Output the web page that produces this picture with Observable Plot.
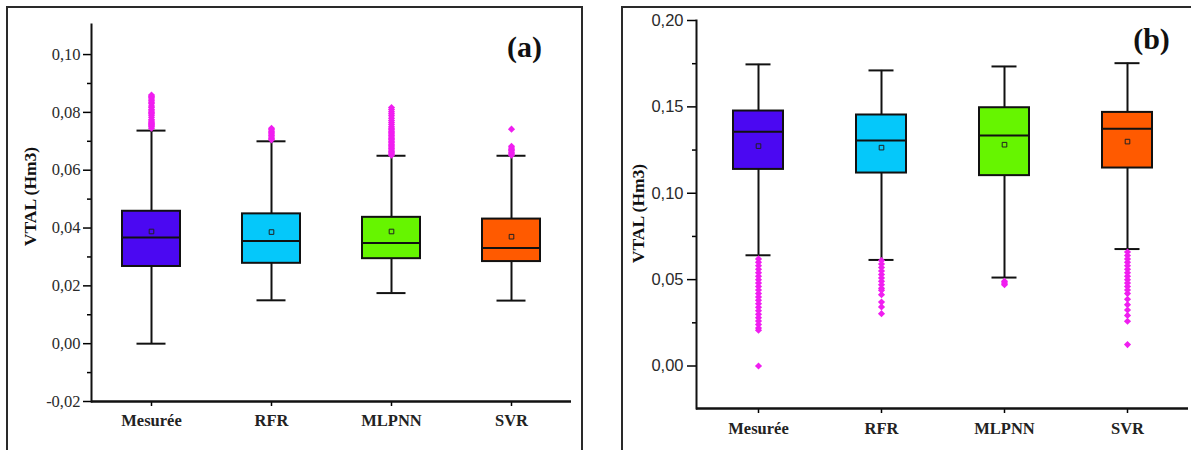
<!DOCTYPE html>
<html>
<head>
<meta charset="utf-8">
<script src="https://cdn.jsdelivr.net/npm/d3@7"></script>
<script src="https://cdn.jsdelivr.net/npm/@observablehq/plot@0.6"></script>
<style>
  html, body { margin: 0; padding: 0; background: #fff; overflow: hidden; }
  #wrap { position: relative; width: 1191px; height: 450px; overflow: hidden; }
  .frame { position: absolute; border: 2px solid #2a2a2a; box-sizing: border-box; }
  #fa { left: 6px; top: 6px; width: 577px; height: 470px; }
  #fb { left: 621px; top: 6px; width: 600px; height: 470px; }
  .panel { position: absolute; top: 0; }
  #pa { left: 0; }
  #pb { left: 600px; }
  .panel svg text { font-family: "Liberation Serif", "Times New Roman", serif !important; }
  #pb svg text.sans, #pb svg .sans text { font-family: "Liberation Sans", Arial, sans-serif !important; }
</style>
</head>
<body>
<div id="wrap">
  <div class="frame" id="fa"></div>
  <div class="frame" id="fb"></div>
  <div class="panel" id="pa"></div>
  <div class="panel" id="pb"></div>
</div>
<script>
// ---------- data ----------
const categories = ["Mesurée", "RFR", "MLPNN", "SVR"];
const boxColors = ["#4b08f2", "#05c8fa", "#66f500", "#ff5a00"];

// Panel (a)
const aWhiskerLow  = [0.0000, 0.0150, 0.0175, 0.0149];
const aQ1          = [0.0267, 0.0278, 0.0294, 0.0284];
const aMedian      = [0.0367, 0.0355, 0.0348, 0.0331];
const aMean        = [0.0388, 0.0386, 0.0388, 0.0370];
const aQ3          = [0.0458, 0.0449, 0.0437, 0.0431];
const aWhiskerHigh = [0.0737, 0.0700, 0.0650, 0.0650];
const aOutMesuree = [0.0745, 0.0750, 0.0754, 0.0758, 0.0762, 0.0766, 0.0770, 0.0775, 0.0783, 0.0790, 0.0795, 0.0800, 0.0805, 0.0810, 0.0817, 0.0822, 0.0830, 0.0835, 0.0840, 0.0846, 0.0852, 0.0856, 0.0860];
const aOutRFR = [0.0705, 0.0710, 0.0715, 0.0720, 0.0725, 0.0730, 0.0735, 0.0740, 0.0745];
const aOutMLPNN = [0.0652, 0.0656, 0.0660, 0.0665, 0.0670, 0.0675, 0.0680, 0.0685, 0.0690, 0.0695, 0.0700, 0.0705, 0.0710, 0.0715, 0.0720, 0.0725, 0.0730, 0.0735, 0.0740, 0.0745, 0.0750, 0.0758, 0.0765, 0.0772, 0.0780, 0.0788, 0.0795, 0.0802, 0.0810, 0.0817];
const aOutSVR = [0.0652, 0.0657, 0.0662, 0.0667, 0.0672, 0.0677, 0.0683, 0.0742];
const aTicks = [-0.02, 0.00, 0.02, 0.04, 0.06, 0.08, 0.10];
const aMinorTicks = [-0.01, 0.01, 0.03, 0.05, 0.07, 0.09];

// Panel (b)
const bWhiskerLow  = [0.0641, 0.0614, 0.0512, 0.0677];
const bQ1          = [0.1138, 0.1117, 0.1102, 0.1146];
const bMedian      = [0.1356, 0.1306, 0.1335, 0.1374];
const bMean        = [0.1273, 0.1264, 0.1281, 0.1299];
const bQ3          = [0.1476, 0.1453, 0.1495, 0.1468];
const bWhiskerHigh = [0.1746, 0.1711, 0.1734, 0.1753];
const bOutMesuree = [0.0620, 0.0600, 0.0580, 0.0560, 0.0540, 0.0520, 0.0500, 0.0480, 0.0460, 0.0440, 0.0420, 0.0400, 0.0380, 0.0360, 0.0340, 0.0320, 0.0300, 0.0280, 0.0260, 0.0240, 0.0220, 0.0207, 0.0000];
const bOutRFR = [0.0610, 0.0590, 0.0570, 0.0550, 0.0530, 0.0510, 0.0490, 0.0470, 0.0450, 0.0438, 0.0413, 0.0370, 0.0342, 0.0303];
const bOutMLPNN = [0.0490, 0.0480, 0.0470];
const bOutSVR = [0.0660, 0.0640, 0.0620, 0.0600, 0.0580, 0.0560, 0.0540, 0.0520, 0.0500, 0.0480, 0.0460, 0.0440, 0.0419, 0.0386, 0.0355, 0.0324, 0.0293, 0.0259, 0.0124];
const bTicks = [0.00, 0.05, 0.10, 0.15, 0.20];
const bMinorTicks = [0.025, 0.075, 0.125, 0.175];

const yLabel = "VTAL (Hm3)";
const outlierColor = "#f01ef0";

// ---------- helpers ----------
const SERIF = "Liberation Serif";
const SANS = "Liberation Sans";

function makeStats(lo, q1, med, mean, q3, hi) {
  return categories.map((c, i) => ({cat: c, color: boxColors[i], lo: lo[i], q1: q1[i], med: med[i], mean: mean[i], q3: q3[i], hi: hi[i]}));
}
function makeOutliers(lists) {
  const rows = [];
  lists.forEach((list, i) => list.forEach(v => rows.push({cat: categories[i], v})));
  return rows;
}
const fmt = d => d.toFixed(2).replace(".", ",");

function panel(opts) {
  const stats = opts.stats, outs = opts.outs;
  return Plot.plot({
    width: opts.width, height: 450,
    marginLeft: opts.ml, marginRight: opts.mr, marginTop: opts.mt, marginBottom: opts.mb,
    style: {background: "transparent", overflow: "visible"},
    x: {type: "band", domain: categories, paddingInner: opts.pi, paddingOuter: opts.pi / 2, align: 0.5},
    y: {domain: opts.ydomain},
    color: {type: "identity"},
    marks: [
      Plot.ruleX(stats, {x: "cat", y1: "lo", y2: "hi", stroke: "#111", strokeWidth: 2}),
      Plot.tickY(stats, {x: "cat", y: "lo", insetLeft: opts.capInset, insetRight: opts.capInset, stroke: "#111", strokeWidth: 2}),
      Plot.tickY(stats, {x: "cat", y: "hi", insetLeft: opts.capInset, insetRight: opts.capInset, stroke: "#111", strokeWidth: 2}),
      Plot.barY(stats, {x: "cat", y1: "q1", y2: "q3", fill: "color", stroke: "#111", strokeWidth: 2}),
      Plot.tickY(stats, {x: "cat", y: "med", stroke: "#111", strokeWidth: 2}),
      Plot.dot(stats, {x: "cat", y: "mean", symbol: "square", r: 2.6, fill: "color", stroke: "#222", strokeWidth: 1}),
      Plot.dot(outs, {x: "cat", y: "v", symbol: "diamond2", r: 3.2, fill: outlierColor, stroke: null}),
      Plot.axisY({ticks: opts.minor, tickSize: 4, tickFormat: () => "", strokeWidth: 1.5, label: null}),
      Plot.axisY({ticks: opts.ticks, tickSize: opts.tickSize, tickPadding: opts.tickPad, tickFormat: fmt, strokeWidth: 1.5,
                  fontFamily: opts.tickFont, fontSize: 16.5, fill: "#2a2a2a", label: null}),
      Plot.axisX({tickSize: 5, tickPadding: opts.xPad, strokeWidth: 1.5, fontFamily: SERIF,
                  fontWeight: "bold", fontSize: 16.5, fill: "#222", label: null}),
      Plot.frame({anchor: "left", stroke: "#111", strokeWidth: 2}),
      Plot.ruleY([opts.ydomain[0]], {stroke: "#111", strokeWidth: 2.5}),
      Plot.text([yLabel], {text: d => d, frameAnchor: "left", textAnchor: "middle", lineAnchor: "middle",
                           dx: opts.labelDx, dy: opts.labelDy, rotate: -90,
                           fontFamily: SERIF, fontWeight: "bold", fontSize: 17.5, fill: "#111"}),
      Plot.text([opts.tag], {text: d => d, frameAnchor: "top-right", dx: opts.tagDx, dy: opts.tagDy, textAnchor: "middle",
                             lineAnchor: "middle", fontFamily: SERIF, fontWeight: "bold", fontSize: 30, fill: "#111"})
    ]
  });
}

const svgA = panel({
  stats: makeStats(aWhiskerLow, aQ1, aMedian, aMean, aQ3, aWhiskerHigh),
  outs: makeOutliers([aOutMesuree, aOutRFR, aOutMLPNN, aOutSVR]),
  width: 590, ml: 91, mr: 19, mt: 24, mb: 49,
  pi: 1 - 58 / 120, capInset: 14.5,
  ydomain: [-0.02, 0.1104], ticks: aTicks, minor: aMinorTicks,
  tickSize: 8, tickPad: 3, tickFont: SERIF, xPad: 8,
  labelDx: -61, labelDy: -16.5, tag: "(a)", tagDx: -47, tagDy: 23
});
document.getElementById("pa").append(svgA);

const svgB = panel({
  stats: makeStats(bWhiskerLow, bQ1, bMedian, bMean, bQ3, bWhiskerHigh),
  outs: makeOutliers([bOutMesuree, bOutRFR, bOutMLPNN, bOutSVR]),
  width: 591, ml: 96, mr: 3, mt: 20, mb: 42,
  pi: 1 - 50 / 123, capInset: 12.5,
  ydomain: [-0.0246, 0.20], ticks: bTicks, minor: bMinorTicks,
  tickSize: 9, tickPad: 4, tickFont: SANS, xPad: 9,
  labelDx: -58, labelDy: -1, tag: "(b)", tagDx: -37, tagDy: 19
});
document.getElementById("pb").append(svgB);
// panel (b) y tick labels are sans-serif in the reference
svgB.querySelectorAll('g[aria-label="y-axis tick label"]').forEach(g => g.classList.add("sans"));
</script>
</body>
</html>
